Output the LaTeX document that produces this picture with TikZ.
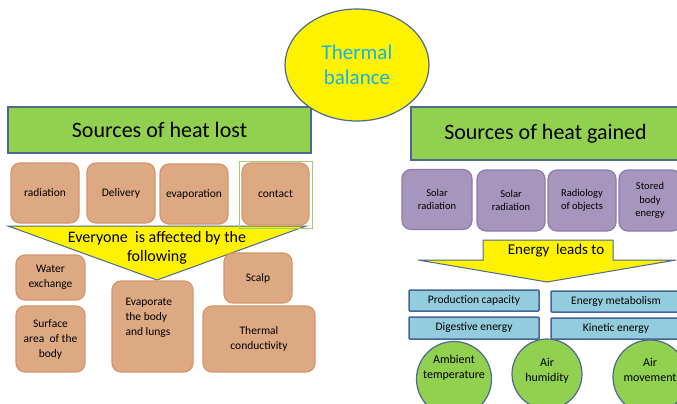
\documentclass[tikz,border=0pt]{standalone}
\usepackage{fontspec}
\setmainfont{Carlito}
\usetikzlibrary{shapes.geometric}
\definecolor{lostfill}{RGB}{221,169,131}
\definecolor{lostline}{RGB}{214,150,108}
\definecolor{gainfill}{RGB}{166,150,190}
\definecolor{gainline}{RGB}{140,122,172}
\definecolor{effectfill}{RGB}{147,205,221}
\definecolor{effectline}{RGB}{66,100,150}
\definecolor{leafgreen}{RGB}{146,208,80}
\definecolor{frameblue}{RGB}{75,105,145}
\definecolor{titlecyan}{RGB}{20,180,225}
\definecolor{framegreen}{RGB}{160,205,110}
\tikzset{
    heading/.style={draw=frameblue, line width=1.2pt, fill=leafgreen, inner sep=0, font=\fontsize{22}{24}\selectfont},
    lostbox/.style={draw=lostline, line width=1.2pt, fill=lostfill, rounded corners=9pt, inner sep=0, align=center, font=\fontsize{11.5}{15}\selectfont},
    gainbox/.style={draw=gainline, line width=1.2pt, fill=gainfill, rounded corners=9pt, inner sep=0, align=center, font=\fontsize{10.5}{13.5}\selectfont},
    effectbox/.style={draw=effectline, line width=1.5pt, fill=effectfill, rounded corners=1pt, inner sep=0, font=\fontsize{11.5}{14}\selectfont},
    factor/.style={circle, draw=frameblue, line width=1.2pt, fill=leafgreen, inner sep=0},
    factortxt/.style={align=center, font=\fontsize{12}{15}\selectfont},
    arrowfill/.style={draw=frameblue, line width=1pt, fill=yellow}
}
\begin{document}
\begin{tikzpicture}[x=1pt,y=-1pt]
        \useasboundingbox (0,0) rectangle (677,404);
        \fill[white] (0,0) rectangle (677,404);
        \clip (0,0) rectangle (677,404);

        %titoli
        \node[heading, minimum width=303, minimum height=46] (lost) at (159.5,130) {Sources of heat lost};
        \node[heading, minimum width=269, minimum height=53] (gained) at (545.5,133.5) {Sources of heat gained};
        \node[ellipse, draw=frameblue, line width=1.2pt, fill=yellow, minimum width=144, minimum height=112, inner sep=0,
              align=center, text=titlecyan, font=\fontsize{21}{25}\selectfont] (balance) at (357,65) {Thermal\\balance};

        %freccia gialla a sinistra
        \draw[arrowfill] (8,226) -- (306,226) -- (157,280) -- cycle;
        \node[align=center, font=\fontsize{16}{19}\selectfont] (affected) at (157,247.5) {Everyone\ \ is affected by the\\following};

        %perdite di calore
        \node[lostbox, minimum width=68, minimum height=60] (radiation) at (45,193) {radiation};
        \node[lostbox, minimum width=68, minimum height=60] (delivery) at (121,193) {Delivery};
        \node[lostbox, minimum width=68, minimum height=60] (evaporation) at (194,194) {evaporation};
        \draw[framegreen, line width=1pt] (239,161) rectangle (312,228);
        \node[lostbox, minimum width=67, minimum height=62] (contact) at (275.5,194) {contact};

        \node[lostbox, minimum width=69, minimum height=45] (water) at (50.5,277.5) {Water\\exchange};
        \node[lostbox, minimum width=69, minimum height=66] (surface) at (50.5,339) {Surface\\area\ \ of the\\body};
        \node[lostbox, minimum width=81, minimum height=91] (evaporate) at (152.5,326.5) {};
        \node[anchor=west, align=left, font=\fontsize{11.5}{15}\selectfont] (evaporatetxt) at (122,318) {Evaporate\\the body\\and lungs};
        \node[lostbox, minimum width=68, minimum height=50] (scalp) at (258,278) {Scalp};
        \node[lostbox, minimum width=112, minimum height=66] (conductivity) at (259,339) {Thermal\\conductivity};

        %guadagni di calore
        \node[gainbox, minimum width=70, minimum height=60] (solarA) at (437,199.5) {Solar\\radiation};
        \node[gainbox, minimum width=68, minimum height=61] (solarB) at (511,200.5) {Solar\\radiation};
        \node[gainbox, minimum width=68, minimum height=61] (radiology) at (582,200.5) {Radiology\\of objects};
        \node[gainbox, minimum width=62, minimum height=61] (stored) at (650,200.5) {Stored\\body\\energy};

        %freccia gialla a destra
        \draw[arrowfill] (483,240) -- (613,240) -- (613,260) -- (676,260) -- (547,282) -- (418,260) -- (483,260) -- cycle;
        \node[font=\fontsize{15}{18}\selectfont] (leads) at (556,251) {Energy\ \ leads to};

        %energia
        \node[effectbox, minimum width=130, minimum height=21] (production) at (474,300.5) {Production capacity};
        \node[effectbox, minimum width=130, minimum height=22] (digestive) at (474,328) {Digestive energy};
        \node[effectbox, minimum width=130, minimum height=21] (metabolism) at (616,301.5) {Energy metabolism};
        \node[effectbox, minimum width=130, minimum height=21] (kinetic) at (616,328.5) {Kinetic energy};

        %fattori ambientali
        \node[factor, minimum size=75] (ambient) at (454,379) {};
        \node[factor, minimum size=70] (humidity) at (547,374) {};
        \node[factor, minimum size=74] (movement) at (650,377) {};
        \node[factortxt] (ambienttxt) at (454,368) {Ambient\\temperature};
        \node[factortxt] (humiditytxt) at (547,371) {Air\\humidity};
        \node[factortxt] (movementtxt) at (650,370) {Air\\movement};
\end{tikzpicture}
\end{document}
